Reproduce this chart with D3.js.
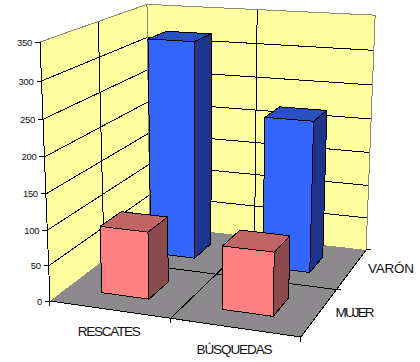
<!DOCTYPE html>
<html>
<head>
<meta charset="utf-8">
<script src="https://cdn.jsdelivr.net/npm/d3@7"></script>
<style>
  html, body { margin: 0; padding: 0; background: #fff; }
  svg { display: block; }
  path, line { shape-rendering: crispEdges; }
  text { font-family: "Liberation Sans", Arial, sans-serif; fill: #111; }
</style>
</head>
<body>
<svg id="chart"></svg>
<script>
const categories = ['RESCATES', 'BÚSQUEDAS'];
const seriesNames = ['MUJER', 'VARÓN'];
const mujerValues = [95, 88];
const varonValues = [320, 220];
const yTicks = [0, 50, 100, 150, 200, 250, 300, 350];

const width = 420;
const height = 362;

const svg = d3.select('#chart').attr('width', width).attr('height', height);

// Scales work in a unit cube, project() turns that into screen pixels
const x = d3.scaleBand().domain(categories).range([0, 1]).paddingInner(0.6).paddingOuter(0.3);
const z = d3.scaleBand().domain(seriesNames).range([0, 1]).paddingInner(0.6).paddingOuter(0.3);
const y = d3.scaleLinear().domain([0, 350]).range([0, 1]);

// Corners of the box on screen and the perspective weight of each axis
const origin = [50, 301];
const endX = [301, 337];
const endY = [40, 42];
const endZ = [150, 225];
const wX = 0.926;
const wY = 0.94;
const wZ = 1.184;

function project(px, py, pz) {
  const den = 1 + px * (wX - 1) + py * (wY - 1) + pz * (wZ - 1);
  const coord = (i) =>
    (origin[i] +
      px * (wX * endX[i] - origin[i]) +
      py * (wY * endY[i] - origin[i]) +
      pz * (wZ * endZ[i] - origin[i])) / den;
  return [coord(0), coord(1)];
}

const line = d3.line();

function face(corners, fill, stroke) {
  svg.append('path')
    .attr('d', line(corners.map((c) => project(c[0], c[1], c[2]))) + 'Z')
    .attr('fill', fill)
    .attr('stroke', stroke)
    .attr('stroke-width', 1)
    .attr('stroke-linejoin', 'round');
}

function segment(a, b, color, width) {
  svg.append('path')
    .attr('d', line([project(a[0], a[1], a[2]), project(b[0], b[1], b[2])]))
    .attr('fill', 'none')
    .attr('stroke', color)
    .attr('stroke-width', width || 1);
}

// Long capitals in the picture are squeezed, so fit them to their measured length
function squeezed(selection, length) {
  selection
    .attr('font-size', 13.5)
    .attr('textLength', length)
    .attr('lengthAdjust', 'spacing');
}

// Walls and floor
const wallColor = '#ffff9f';
const floorColor = '#8c8a8c';
const edgeColor = '#8a8a70';

face([[0, 0, 0], [0, 1, 0], [0, 1, 1], [0, 0, 1]], wallColor, 'none');
face([[0, 0, 1], [0, 1, 1], [1, 1, 1], [1, 0, 1]], wallColor, 'none');
face([[0, 0, 0], [1, 0, 0], [1, 0, 1], [0, 0, 1]], floorColor, 'none');

// Gridlines on the walls
yTicks.slice(1).forEach((t) => {
  segment([0, y(t), 0], [0, y(t), 1], '#000');
  segment([0, y(t), 1], [1, y(t), 1], '#000');
});
segment([0, 0, 0.5], [0, 1, 0.5], '#000');
segment([0.5, 0, 1], [0.5, 1, 1], '#000');

// Gridlines on the floor
segment([0.5, 0, 0], [0.5, 0, 1], '#000');
segment([0, 0, 0.5], [1, 0, 0.5], '#000');

// Box edges
segment([0, 1, 0], [0, 1, 1], edgeColor);
segment([0, 1, 1], [1, 1, 1], edgeColor);
segment([1, 0, 1], [1, 1, 1], edgeColor);
segment([0, 1, 1], [0, 0, 1], edgeColor);
segment([0, 0, 0], [0, 1, 0], '#000');
segment([0, 0, 0], [1, 0, 0], '#000');
segment([1, 0, 0], [1, 0, 1], '#000');

// Bars, back row first
function drawBar(cat, row, value, colors) {
  const x0 = x(cat);
  const x1 = x0 + x.bandwidth();
  const z0 = z(row);
  const z1 = z0 + z.bandwidth();
  const h = y(value);
  face([[x0, h, z0], [x1, h, z0], [x1, h, z1], [x0, h, z1]], colors.top, '#000');
  face([[x1, 0, z0], [x1, 0, z1], [x1, h, z1], [x1, h, z0]], colors.side, '#000');
  face([[x0, 0, z0], [x1, 0, z0], [x1, h, z0], [x0, h, z0]], colors.front, '#000');
}

const blue = { front: '#3366ff', top: '#2850c0', side: '#1c348c' };
const pink = { front: '#ff8080', top: '#c06464', side: '#8c4a4c' };

categories.forEach((c, i) => drawBar(c, 'VARÓN', varonValues[i], blue));
categories.forEach((c, i) => drawBar(c, 'MUJER', mujerValues[i], pink));

// Value axis
yTicks.forEach((t) => {
  const p = project(0, y(t), 0);
  svg.append('line')
    .attr('x1', p[0] - 5).attr('x2', p[0])
    .attr('y1', p[1]).attr('y2', p[1])
    .attr('stroke', '#000');
  svg.append('text')
    .text(t)
    .attr('x', p[0] - 8)
    .attr('y', p[1] + 3.5)
    .attr('text-anchor', 'end')
    .attr('font-size', 9.5)
    .attr('letter-spacing', -0.3);
});

// Category axis
[0, 0.5, 1].forEach((t) => {
  const p = project(t, 0, 0);
  svg.append('line')
    .attr('x1', p[0]).attr('x2', p[0] - 0.5)
    .attr('y1', p[1]).attr('y2', p[1] + 5)
    .attr('stroke', '#000');
});
const categoryLengths = [63, 76];
categories.forEach((c, i) => {
  const p = project(x(c) + x.bandwidth() / 2, 0, 0);
  svg.append('text')
    .text(c)
    .attr('x', p[0])
    .attr('y', p[1] + 27)
    .attr('text-anchor', 'middle')
    .call(squeezed, categoryLengths[i]);
});

// Series axis
[0.5, 1].forEach((t) => {
  const p = project(1, 0, t);
  svg.append('line')
    .attr('x1', p[0]).attr('x2', p[0] + 5)
    .attr('y1', p[1]).attr('y2', p[1])
    .attr('stroke', '#000');
});
const seriesLengths = [39, 46];
seriesNames.forEach((s, i) => {
  const p = project(1, 0, z(s) + z.bandwidth() / 2);
  svg.append('text')
    .text(s)
    .attr('x', p[0] + 16)
    .attr('y', p[1] + 4.5)
    .call(squeezed, seriesLengths[i]);
});
</script>
</body>
</html>
